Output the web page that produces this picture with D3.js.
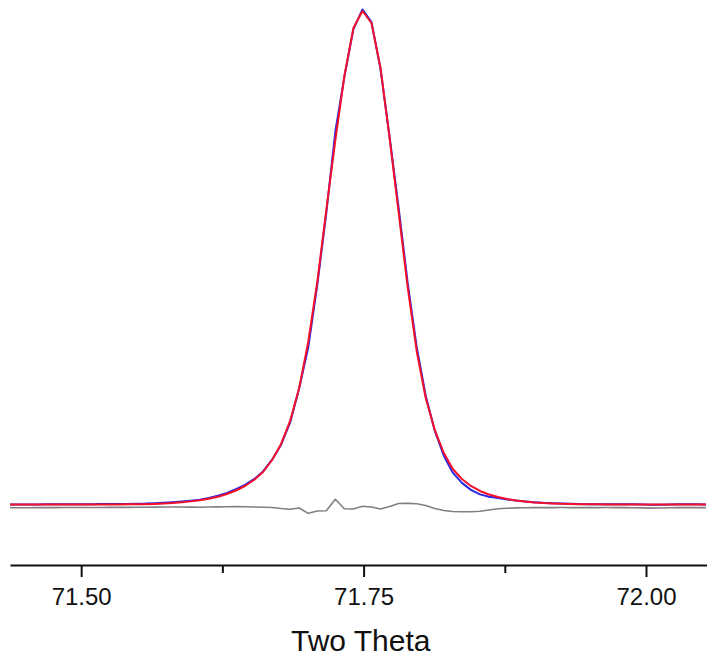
<!DOCTYPE html>
<html lang="en">
<head>
    <meta charset="UTF-8" />
    <title>Two Theta peak fit</title>
    <style>
        html, body {
            margin: 0;
            padding: 0;
            background-color: white;
        }
        svg {
            display: block;
        }
        .tick text {
            font-family: "Liberation Sans", Arial, sans-serif;
        }
    </style>
</head>
<body>
    <svg id="svg" width="707" height="658"></svg>
    <script src="https://cdn.jsdelivr.net/npm/d3@7"></script>
    <script>
        // 2-theta grid (step 0.008 deg)
        const twoTheta = [
            71.437, 71.445, 71.453, 71.461, 71.469, 71.477, 71.485, 71.493, 71.501, 71.509,
            71.517, 71.525, 71.533, 71.541, 71.549, 71.557, 71.565, 71.573, 71.581, 71.589,
            71.597, 71.605, 71.613, 71.621, 71.629, 71.637, 71.645, 71.653, 71.661, 71.669,
            71.677, 71.685, 71.693, 71.701, 71.709, 71.717, 71.725, 71.733, 71.741, 71.749,
            71.757, 71.765, 71.773, 71.781, 71.789, 71.797, 71.805, 71.813, 71.821, 71.829,
            71.837, 71.845, 71.853, 71.861, 71.869, 71.877, 71.885, 71.893, 71.901, 71.909,
            71.917, 71.925, 71.933, 71.941, 71.949, 71.957, 71.965, 71.973, 71.981, 71.989,
            71.997, 72.005, 72.013, 72.021, 72.029, 72.037, 72.045, 72.053
        ];

        // observed intensity (blue)
        const observed = [
            397, 398, 399, 400, 402, 401, 403, 404, 404, 405,
            406, 408, 409, 410, 412, 416, 424, 434, 444, 457,
            473, 492, 524, 567, 624, 695, 779, 890, 1040, 1269,
            1560, 1992, 2658, 3448, 4659, 6064, 7645, 8706, 9633, 10017,
            9769, 8856, 7544, 6165, 4711, 3459, 2512, 1832, 1347, 1016,
            818, 682, 595, 550, 525, 497, 474, 457, 443, 430,
            424, 419, 412, 408, 405, 405, 405, 404, 402, 401,
            397, 392, 395, 399, 401, 402, 401, 400
        ];

        // calculated intensity (red)
        const calculated = [
            397, 397, 397, 397, 398, 398, 398, 398, 399, 399,
            399, 400, 400, 401, 402, 404, 410, 418, 427, 441,
            459, 480, 509, 548, 602, 670, 758, 874, 1030, 1263,
            1574, 2021, 2662, 3555, 4721, 6120, 7480, 8723, 9656, 9986,
            9753, 8879, 7519, 6081, 4624, 3381, 2467, 1846, 1399, 1088,
            894, 758, 661, 593, 544, 505, 476, 455, 439, 427,
            420, 414, 408, 404, 402, 401, 400, 400, 399, 399,
            399, 398, 398, 398, 398, 398, 397, 397
        ];

        // difference obs - calc (grey, drawn with an offset)
        const difference = [
            0, 1, 2, 3, 4, 3, 5, 6, 5, 6,
            7, 8, 9, 9, 10, 12, 14, 16, 17, 16,
            14, 12, 15, 19, 22, 25, 21, 16, 10, 6,
            -14, -29, -4, -107, -62, -56, 165, -17, -23, 31,
            16, -23, 25, 84, 87, 78, 45, -14, -52, -72,
            -76, -76, -66, -43, -19, -8, -2, 2, 4, 3,
            4, 5, 4, 4, 3, 4, 5, 4, 3, 2,
            -2, -6, -3, 1, 3, 4, 4, 3
        ];
        const diffOffset = 334;

        const majorTicks = [71.50, 71.75, 72.00];
        const minorTicks = [71.625, 71.875];

        const svg = d3.select("#svg");

        const xScale = d3.scaleLinear()
            .domain([71.437, 72.054])
            .range([10, 707]);

        const yScale = d3.scaleLinear()
            .domain([0, 10200])
            .range([525, 0]);

        const line = (vals) => d3.line()
            .x((d, i) => xScale(twoTheta[i]))
            .y((d) => yScale(d))(vals);

        // difference curve
        svg.append("path")
            .attr("d", line(difference.map((d) => d + diffOffset)))
            .attr("fill", "none")
            .attr("stroke", "#808080")
            .attr("stroke-width", 1.6)
            .attr("stroke-linejoin", "round");

        // observed
        svg.append("path")
            .attr("d", line(observed))
            .attr("fill", "none")
            .attr("stroke", "#2a2ae6")
            .attr("stroke-width", 2)
            .attr("stroke-linejoin", "round");

        // calculated
        svg.append("path")
            .attr("d", line(calculated))
            .attr("fill", "none")
            .attr("stroke", "#f5102a")
            .attr("stroke-width", 2)
            .attr("stroke-linejoin", "round");

        // x-axis
        const xAxis = svg.append("g")
            .attr("transform", "translate(0,565)")
            .call(d3.axisBottom(xScale)
                .tickValues(majorTicks)
                .tickFormat(d3.format(".2f"))
                .tickSize(12)
                .tickSizeOuter(0)
                .tickPadding(11));

        xAxis.select(".domain")
            .attr("stroke", "#111")
            .attr("stroke-width", 2);
        xAxis.selectAll(".tick line")
            .attr("stroke", "#111")
            .attr("stroke-width", 2);
        xAxis.selectAll(".tick text")
            .attr("fill", "#111")
            .style("font-size", "24px");

        const minorAxis = svg.append("g")
            .attr("transform", "translate(0,565)")
            .call(d3.axisBottom(xScale)
                .tickValues(minorTicks)
                .tickFormat("")
                .tickSize(8)
                .tickSizeOuter(0));
        minorAxis.select(".domain").remove();
        minorAxis.selectAll(".tick line")
            .attr("stroke", "#111")
            .attr("stroke-width", 2);

        svg.append("text")
            .attr("x", xScale(71.7475))
            .attr("y", 651)
            .attr("text-anchor", "middle")
            .attr("fill", "#111")
            .style("font-family", "'Liberation Sans', Arial, sans-serif")
            .style("font-size", "30px")
            .text("Two Theta");
    </script>
</body>
</html>
